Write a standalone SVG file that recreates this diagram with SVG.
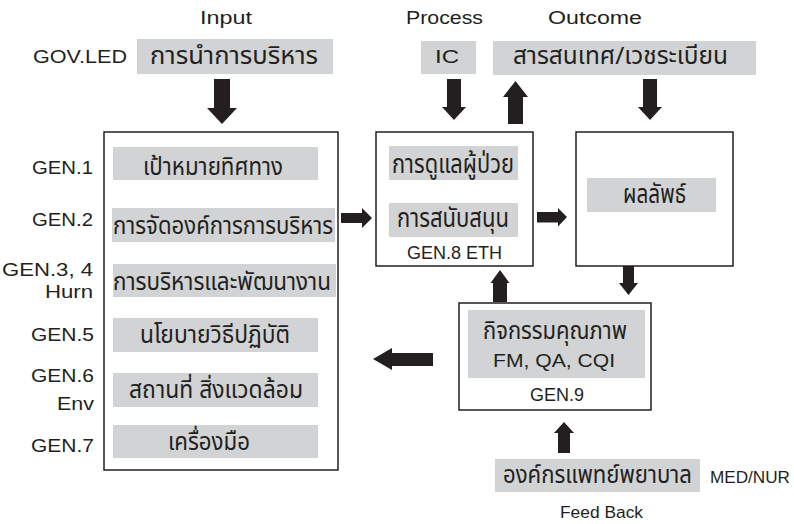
<svg xmlns="http://www.w3.org/2000/svg" width="794" height="524" viewBox="0 0 794 524">
<style>
.lat{font-family:"Liberation Sans",Arial,sans-serif;fill:#231f20;}
.th{font-family:"Noto Sans Thai","Noto Sans","DejaVu Sans",sans-serif;fill:#231f20;}
.gray{fill:#d1d3d4;}
.box{fill:#fff;stroke:#231f20;stroke-width:1.5;}
.arr{fill:#231f20;}
</style>
<rect width="794" height="524" fill="#fff"/>
<g id="headers">
<text class="lat" x="200" y="24" font-size="18" textLength="52" lengthAdjust="spacingAndGlyphs">Input</text>
<text class="lat" x="406" y="24" font-size="18" textLength="77" lengthAdjust="spacingAndGlyphs">Process</text>
<text class="lat" x="548" y="24" font-size="18" textLength="94" lengthAdjust="spacingAndGlyphs">Outcome</text>
</g>
<g id="gov">
<text class="lat" x="33" y="63" font-size="19" textLength="94" lengthAdjust="spacingAndGlyphs">GOV.LED</text>
<rect class="gray" x="137" y="39" width="196" height="35"/>
<text class="th" x="150" y="64" font-size="24" textLength="168" lengthAdjust="spacingAndGlyphs">การนำการบริหาร</text>
</g>
<g id="ic">
<rect class="gray" x="421" y="41" width="55" height="33"/>
<text class="lat" x="435" y="63" font-size="19" textLength="24" lengthAdjust="spacingAndGlyphs">IC</text>
</g>
<g id="info">
<rect class="gray" x="493" y="41" width="263" height="34"/>
<text class="th" x="513" y="64" font-size="24" textLength="215" lengthAdjust="spacingAndGlyphs">สารสนเทศ/เวชระเบียน</text>
</g>
<g id="input">
<rect class="box" x="104" y="132" width="234" height="338"/>
<rect class="gray" x="113" y="147" width="205" height="33"/>
<rect class="gray" x="112" y="208" width="223" height="34"/>
<rect class="gray" x="113" y="264" width="223" height="33"/>
<rect class="gray" x="113" y="318" width="205" height="34"/>
<rect class="gray" x="113" y="373" width="205" height="34"/>
<rect class="gray" x="113" y="425" width="205" height="33"/>
<text class="th" x="143" y="175" font-size="24" textLength="140" lengthAdjust="spacingAndGlyphs">เป้าหมายทิศทาง</text>
<text class="th" x="113" y="234" font-size="24" textLength="220" lengthAdjust="spacingAndGlyphs">การจัดองค์การการบริหาร</text>
<text class="th" x="113" y="290" font-size="24" textLength="218" lengthAdjust="spacingAndGlyphs">การบริหารและพัฒนางาน</text>
<text class="th" x="140" y="343" font-size="24" textLength="150" lengthAdjust="spacingAndGlyphs">นโยบายวิธีปฏิบัติ</text>
<text class="th" x="129" y="398" font-size="24" textLength="174" lengthAdjust="spacingAndGlyphs">สถานที่ สิ่งแวดล้อม</text>
<text class="th" x="168" y="450" font-size="24" textLength="82" lengthAdjust="spacingAndGlyphs">เครื่องมือ</text>
</g>
<g id="gen-labels">
<text class="lat" x="93" y="174" font-size="18" text-anchor="end" textLength="61" lengthAdjust="spacingAndGlyphs">GEN.1</text>
<text class="lat" x="93" y="226" font-size="18" text-anchor="end" textLength="61" lengthAdjust="spacingAndGlyphs">GEN.2</text>
<text class="lat" x="93" y="276" font-size="18" text-anchor="end" textLength="91" lengthAdjust="spacingAndGlyphs">GEN.3, 4</text>
<text class="lat" x="93" y="298" font-size="18" text-anchor="end" textLength="48" lengthAdjust="spacingAndGlyphs">Hurn</text>
<text class="lat" x="94" y="341" font-size="18" text-anchor="end" textLength="63" lengthAdjust="spacingAndGlyphs">GEN.5</text>
<text class="lat" x="94" y="382" font-size="18" text-anchor="end" textLength="63" lengthAdjust="spacingAndGlyphs">GEN.6</text>
<text class="lat" x="94" y="410" font-size="18" text-anchor="end" textLength="37" lengthAdjust="spacingAndGlyphs">Env</text>
<text class="lat" x="94" y="452" font-size="18" text-anchor="end" textLength="63" lengthAdjust="spacingAndGlyphs">GEN.7</text>
</g>
<g id="process">
<rect class="box" x="376" y="132" width="157" height="134"/>
<rect class="gray" x="389" y="146" width="129" height="34"/>
<rect class="gray" x="389" y="203" width="129" height="34"/>
<text class="th" x="392" y="173" font-size="27" textLength="122" lengthAdjust="spacingAndGlyphs">การดูแลผู้ป่วย</text>
<text class="th" x="397" y="227" font-size="27" textLength="112" lengthAdjust="spacingAndGlyphs">การสนับสนุน</text>
<text class="lat" x="407" y="259" font-size="18" textLength="95" lengthAdjust="spacingAndGlyphs">GEN.8 ETH</text>
</g>
<g id="outcome">
<rect class="box" x="576" y="132" width="157" height="134"/>
<rect class="gray" x="587" y="178" width="129" height="34"/>
<text class="th" x="623" y="203" font-size="26" textLength="63" lengthAdjust="spacingAndGlyphs">ผลลัพธ์</text>
</g>
<g id="quality">
<rect class="box" x="459" y="303" width="192" height="107"/>
<rect class="gray" x="468" y="310" width="177" height="68"/>
<text class="th" x="483" y="339" font-size="25" textLength="144" lengthAdjust="spacingAndGlyphs">กิจกรรมคุณภาพ</text>
<text class="lat" x="493" y="367" font-size="19" textLength="122" lengthAdjust="spacingAndGlyphs">FM, QA, CQI</text>
<text class="lat" x="530" y="401" font-size="18" textLength="54" lengthAdjust="spacingAndGlyphs">GEN.9</text>
</g>
<g id="mednur">
<rect class="gray" x="495" y="459" width="205" height="33"/>
<text class="th" x="503" y="483" font-size="25" textLength="189" lengthAdjust="spacingAndGlyphs">องค์กรแพทย์พยาบาล</text>
<text class="lat" x="710" y="483" font-size="17" textLength="80" lengthAdjust="spacingAndGlyphs">MED/NUR</text>
<text class="lat" x="560" y="518" font-size="17" textLength="83" lengthAdjust="spacingAndGlyphs">Feed Back</text>
</g>
<g id="connectors" class="arr">
<polygon points="214,79 230,79 230,108 237,108 222,124 207,108 214,108"/>
<polygon points="447,79 461,79 461,107 466,107 454,120 442,107 447,107"/>
<polygon points="508,124 523,124 523,97 528,97 515.5,81 503,97 508,97"/>
<polygon points="643,79 657,79 657,107 662,107 650,120 638,107 643,107"/>
<polygon points="341,213 362,213 362,208 372,218 362,228 362,223 341,223"/>
<polygon points="537,212 558,212 558,208 567,217 558,226.5 558,222.5 537,222.5"/>
<polygon points="623,266 634,266 634,283 638,283 628.5,295 619,283 623,283"/>
<polygon points="493,302 507,302 507,283 509.5,283 500,270 490.5,283 493,283"/>
<polygon points="433,353 392,353 392,348 373,359 392,370 392,366 433,366"/>
<polygon points="558,453 570,453 570,433 574,433 564,422 554,433 558,433"/>
</g>
</svg>
